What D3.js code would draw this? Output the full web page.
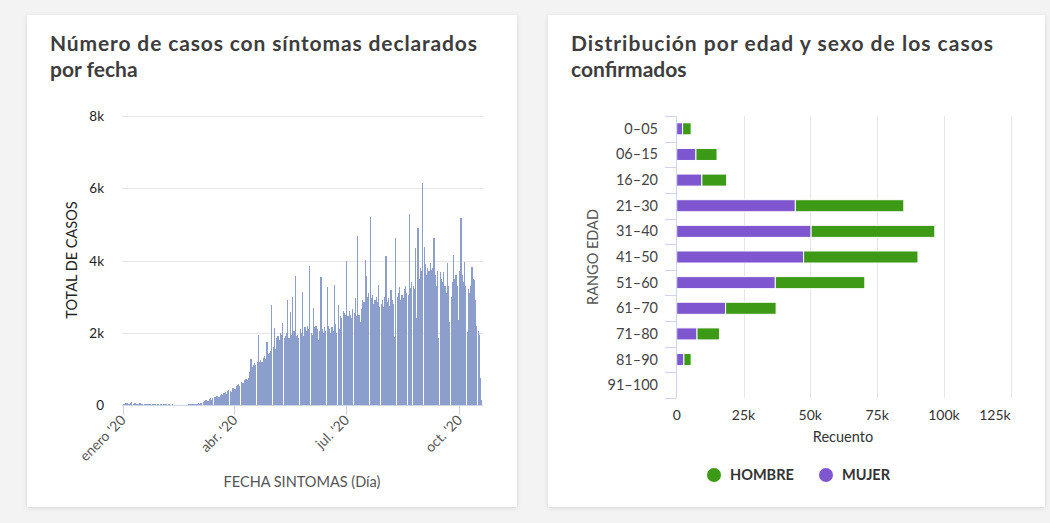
<!DOCTYPE html>
<html>
<head>
<meta charset="utf-8">
<script src="https://cdn.jsdelivr.net/npm/d3@7"></script>
<style>
  body { margin: 0; background: #f3f3f3; }
  svg { display: block; font-family: Lato, "Open Sans", sans-serif; }
  .title { font-family: Lato, "Open Sans", sans-serif; font-weight: 700; fill: #3d3d3d; }
</style>
</head>
<body>
<svg id="chart" width="1050" height="523"></svg>
<script>
// ---- data: daily cases by symptom date, starting 2020-01-01 ----
const startDate = new Date(2020, 0, 1);
const dailyCases = [
  40, 30, 50, 60, 40, 30, 50, 70, 40, 60,
  50, 30, 40, 60, 50, 30, 20, 40, 30, 20,
  30, 40, 20, 10, 30, 40, 20, 10, 20, 30,
  40, 20, 10, 30, 20, 40, 10, 20, 30, 10,
  20, 10, 0, 10, 0, 10, 0, 0, 10, 0,
  10, 0, 10, 20, 30, 20, 30, 40, 20, 30,
  40, 50, 30, 60, 50, 70, 110, 130, 150, 120,
  160, 190, 150, 200, 230, 210, 260, 250, 220, 290,
  300, 270, 330, 350, 310, 380, 420, 400, 360, 460,
  480, 430, 520, 560, 590, 520, 640, 620, 600, 680,
  720, 690, 760, 900, 1260, 1050, 1100, 1150, 1120, 1190,
  1940, 1200, 1250, 1180, 1300, 1350, 1280, 1750, 1400, 1450,
  1500, 2770, 1600, 2120, 1550, 1850, 1900, 1800, 2000, 1950,
  2260, 1850, 1900, 2000, 2900, 1850, 2580, 1950, 3000, 2050,
  3570, 1900, 1950, 1850, 2100, 2000, 3140, 1900, 2150, 2050,
  2200, 2100, 3860, 2000, 1950, 2680, 2150, 2200, 2100, 1800,
  2050, 3530, 2100, 2000, 2150, 2050, 3280, 2200, 2100, 2000,
  2150, 2050, 3310, 2250, 2000, 2770, 2100, 2450, 2400, 2600,
  2550, 2500, 3990, 2450, 2600, 2500, 2400, 2650, 2550, 2950,
  2450, 4680, 2500, 2300, 2650, 2900, 2850, 4010, 3570, 3000,
  3100, 5210, 2950, 3050, 2800, 2900, 3000, 2850, 3320, 2700,
  2800, 2900, 2700, 3000, 4120, 2850, 2950, 2750, 3180, 2900,
  2800, 1890, 4630, 3000, 3100, 3280, 2900, 3050, 2950, 3200,
  3300, 3100, 3050, 5290, 3250, 3400, 3300, 3200, 4340, 2400,
  4890, 3500, 3800, 3700, 6140, 4380, 3900, 3600, 3800, 3700,
  3920, 3750, 3800, 4630, 3600, 3300, 3700, 1850, 3690, 3500,
  3400, 3690, 3300, 3100, 3920, 3300, 2300, 3000, 3400, 4150,
  3500, 3600, 3300, 2350, 3700, 5170, 3600, 3400, 3970, 3300,
  2030, 3200, 3100, 3300, 3830, 3500, 3450, 2900, 2200, 2050,
  1950, 750, 150
];
const caseTicks = [0, 2000, 4000, 6000, 8000];
const monthTicks = [new Date(2020, 0, 1), new Date(2020, 3, 1), new Date(2020, 6, 1), new Date(2020, 9, 1)];
const monthLabels = ["enero '20", "abr. '20", "jul. '20", "oct. '20"];

// ---- data: confirmed cases by age range and sex ----
const ageRanges = ["0-05", "06-15", "16-20", "21-30", "31-40", "41-50", "51-60", "61-70", "71-80", "81-90", "91-100"];
const mujer  = [2200, 7200, 9400, 44400, 50300, 47500, 36900, 18300, 7600, 2700, 300];
const hombre = [3200, 7900, 9300, 40600, 46300, 42800, 33500, 18900, 8400, 2700, 200];
const countTicks = [0, 25000, 50000, 75000, 100000, 125000];

const svg = d3.select("#chart");
const kfmt = v => v === 0 ? "0" : (v / 1000) + "k";

// cards with soft shadow
const defs = svg.append("defs");
const shadow = defs.append("filter").attr("id", "shadow")
    .attr("x", "-5%").attr("y", "-5%").attr("width", "110%").attr("height", "110%");
shadow.append("feDropShadow").attr("dx", 0).attr("dy", 1).attr("stdDeviation", 2)
    .attr("flood-color", "#000").attr("flood-opacity", 0.12);

[[27, 15, 490, 492], [548, 15, 497, 492]].forEach(c => {
    svg.append("rect").attr("x", c[0]).attr("y", c[1]).attr("width", c[2]).attr("height", c[3])
        .attr("fill", "#fff").attr("filter", "url(#shadow)");
});

// two-line card title, widened to the card's title width
function cardTitle(g, x, lines, size, width) {
    lines.forEach((line, i) => {
        const t = g.append("text").attr("class", "title")
            .attr("x", x).attr("y", 51 + i * 25.5)
            .attr("font-size", size).text(line);
        if (i === 0) t.attr("textLength", width).attr("lengthAdjust", "spacing");
    });
}

// ==========================================
// 1. Daily cases by symptom date
// ==========================================
function buildDaily() {
    const g = svg.append("g");
    const dates = dailyCases.map((v, i) => d3.timeDay.offset(startDate, i));
    const endDate = d3.timeDay.offset(startDate, dailyCases.length);

    const x = d3.scaleTime().domain([startDate, endDate]).range([122.7, 482.5]);
    const y = d3.scaleLinear().domain([0, 8000]).range([405, 116]);

    cardTitle(g, 50, ["Número de casos con síntomas declarados", "por fecha"], 21, 427);

    // grid
    g.append("g").selectAll("line").data(caseTicks.slice(1)).join("line")
        .attr("x1", 122).attr("x2", 483)
        .attr("y1", d => Math.round(y(d)) + 0.5).attr("y2", d => Math.round(y(d)) + 0.5)
        .attr("stroke", "#e6e6e6");

    g.append("g").selectAll("text").data(caseTicks).join("text")
        .attr("x", 104).attr("y", d => y(d) + 5)
        .attr("text-anchor", "end").attr("font-size", 13.5).attr("fill", "#222")
        .text(kfmt);

    // bars
    g.append("g").attr("fill", "#8c9ecb").attr("shape-rendering", "crispEdges")
        .selectAll("rect").data(dailyCases).join("rect")
        .attr("x", (d, i) => x(dates[i]))
        .attr("width", (d, i) => x(d3.timeDay.offset(dates[i], 1)) - x(dates[i]) - 0.1)
        .attr("y", d => y(d))
        .attr("height", d => y(0) - y(d));

    // x axis
    g.append("line").attr("x1", 122).attr("x2", 483).attr("y1", 405.5).attr("y2", 405.5)
        .attr("stroke", "#ccd6eb");
    g.append("g").selectAll("line").data(monthTicks).join("line")
        .attr("x1", d => Math.round(x(d)) + 0.5).attr("x2", d => Math.round(x(d)) + 0.5)
        .attr("y1", 405).attr("y2", 415).attr("stroke", "#ccd6eb");
    g.append("g").selectAll("text").data(monthTicks).join("text")
        .attr("transform", d => `translate(${x(d) + 4},${421}) rotate(-45)`)
        .attr("text-anchor", "end").attr("font-size", 14).attr("fill", "#555")
        .text((d, i) => monthLabels[i]);

    g.append("text").attr("x", 302).attr("y", 487).attr("text-anchor", "middle")
        .attr("font-size", 14.5).attr("fill", "#555").text("FECHA SINTOMAS (Día)");
    g.append("text").attr("transform", "translate(77,260) rotate(-90)")
        .attr("text-anchor", "middle").attr("font-size", 14.5).attr("fill", "#222")
        .text("TOTAL DE CASOS");
}

// ==========================================
// 2. Age / sex distribution (stacked bars)
// ==========================================
function buildAgeSex() {
    const g = svg.append("g");
    const x = d3.scaleLinear().domain([0, 125000]).range([676.7, 1010.7]);
    const y = d3.scaleBand().domain(ageRanges).range([116, 398])
        .paddingInner(0.53).paddingOuter(0.265);
    const color = { mujer: "#7e57d0", hombre: "#3c9a17" };

    cardTitle(g, 571, ["Distribución por edad y sexo de los casos", "confirmados"], 21, 422);

    // grid
    g.append("g").selectAll("line").data(countTicks.slice(1)).join("line")
        .attr("x1", d => Math.round(x(d)) + 0.5).attr("x2", d => Math.round(x(d)) + 0.5)
        .attr("y1", 116).attr("y2", 398).attr("stroke", "#e6e6e6");

    g.append("g").selectAll("text").data(countTicks).join("text")
        .attr("x", d => x(d))
        .attr("y", 420)
        .attr("text-anchor", (d, i) => i === countTicks.length - 1 ? "end" : "middle")
        .attr("font-size", 14).attr("fill", "#333")
        .text(kfmt);

    const rows = ageRanges.map((a, i) => ({ age: a, mujer: mujer[i], hombre: hombre[i] }));
    const stack = d3.stack().keys(["mujer", "hombre"])(rows);

    g.append("g").selectAll("g").data(stack).join("g")
        .attr("fill", s => color[s.key])
        .selectAll("rect").data(s => s).join("rect")
        .attr("x", d => x(d[0]))
        .attr("width", d => x(d[1]) - x(d[0]))
        .attr("y", d => y(d.data.age))
        .attr("height", y.bandwidth())
        .attr("stroke", "#fff").attr("stroke-width", 1);

    // y axis
    g.append("line").attr("x1", 676.5).attr("x2", 676.5).attr("y1", 116).attr("y2", 398)
        .attr("stroke", "#ccd6eb");
    const bounds = ageRanges.map(a => y(a) - y.step() * y.paddingInner() / 2).concat([398]);
    g.append("g").selectAll("line").data(bounds).join("line")
        .attr("x1", 665).attr("x2", 676)
        .attr("y1", d => Math.round(d) + 0.5).attr("y2", d => Math.round(d) + 0.5)
        .attr("stroke", "#ccd6eb");
    g.append("g").selectAll("text").data(ageRanges).join("text")
        .attr("x", 658).attr("y", d => y(d) + y.bandwidth() / 2 + 5)
        .attr("text-anchor", "end").attr("font-size", 14.5).attr("fill", "#444")
        .text(d => d.replace("-", "–"));

    g.append("text").attr("transform", "translate(598,257) rotate(-90)")
        .attr("text-anchor", "middle").attr("font-size", 14.5).attr("fill", "#555")
        .text("RANGO EDAD");
    g.append("text").attr("x", 843).attr("y", 442).attr("text-anchor", "middle")
        .attr("font-size", 14.5).attr("fill", "#333").text("Recuento");

    // legend
    const legend = [["HOMBRE", color.hombre, 714], ["MUJER", color.mujer, 826]];
    const lg = g.append("g").selectAll("g").data(legend).join("g");
    lg.append("circle").attr("cx", d => d[2]).attr("cy", 475).attr("r", 7).attr("fill", d => d[1]);
    lg.append("text").attr("x", d => d[2] + 16).attr("y", 480)
        .attr("font-size", 14.5).attr("font-weight", 700).attr("fill", "#333")
        .text(d => d[0]);
}

buildDaily();
buildAgeSex();
</script>
</body>
</html>
